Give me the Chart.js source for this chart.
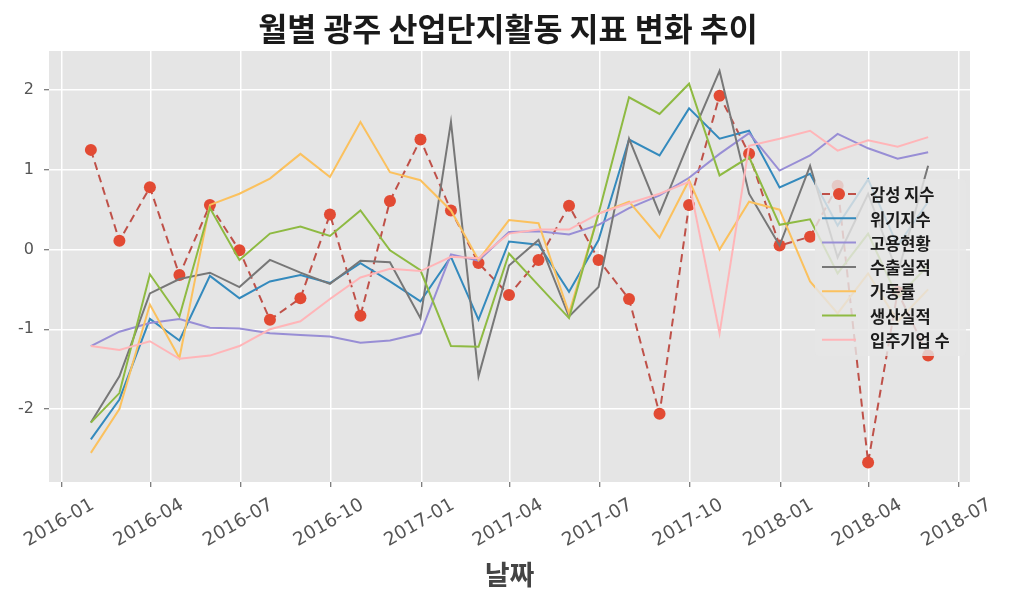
<!DOCTYPE html>
<html lang="ko">
<head>
<meta charset="utf-8">
<title>월별 광주 산업단지활동 지표 변화 추이</title>
<script src="https://cdn.jsdelivr.net/npm/chart.js@4.4.1/dist/chart.umd.min.js"></script>
<style>
  html, body { margin: 0; padding: 0; background: #fff; }
  #chart { display: block; }
</style>
</head>
<body>
<canvas id="chart" width="1015" height="598"></canvas>
<script>
// month-end dates of each observation
const months = [
  '2016-01-31', '2016-02-29', '2016-03-31', '2016-04-30', '2016-05-31', '2016-06-30',
  '2016-07-31', '2016-08-31', '2016-09-30', '2016-10-31', '2016-11-30', '2016-12-31',
  '2017-01-31', '2017-02-28', '2017-03-31', '2017-04-30', '2017-05-31', '2017-06-30',
  '2017-07-31', '2017-08-31', '2017-09-30', '2017-10-31', '2017-11-30', '2017-12-31',
  '2018-01-31', '2018-02-28', '2018-03-31', '2018-04-30', '2018-05-31'
]
const tickMonths = ['2016-01', '2016-04', '2016-07', '2016-10', '2017-01', '2017-04',
  '2017-07', '2017-10', '2018-01', '2018-04', '2018-07']
const yTicks = [-2, -1, 0, 1, 2]

const chartTitle = '월별 광주 산업단지활동 지표 변화 추이'
const seriesNames = ['감성 지수', '위기지수', '고용현황', '수출실적', '가동률', '생산실적', '입주기업 수']

const sentiment = [1.25, 0.11, 0.78, -0.32, 0.56, -0.01, -0.88, -0.61, 0.44, -0.83, 0.61, 1.38, 0.49, -0.17,
  -0.57, -0.13, 0.55, -0.13, -0.62, -2.06, 0.56, 1.93, 1.2, 0.05, 0.16, 0.8, -2.67, -0.53, -1.33]
const crisis = [-2.38, -1.88, -0.87, -1.14, -0.33, -0.61, -0.4, -0.32, -0.42, -0.17, -0.4, -0.65, -0.09, -0.88,
  0.1, 0.06, -0.53, 0.12, 1.38, 1.18, 1.77, 1.39, 1.49, 0.78, 0.95, 0.3, 0.88, 0.05, 0.6]
const employment = [-1.21, -1.03, -0.92, -0.87, -0.98, -0.99, -1.05, -1.07, -1.09, -1.17, -1.14, -1.05, -0.06, -0.14,
  0.22, 0.23, 0.19, 0.31, 0.52, 0.68, 0.9, 1.2, 1.46, 0.99, 1.18, 1.45, 1.27, 1.14, 1.22]
const exports = [-2.17, -1.59, -0.55, -0.37, -0.29, -0.47, -0.13, -0.29, -0.43, -0.14, -0.16, -0.86, 1.6, -1.59,
  -0.2, 0.12, -0.84, -0.47, 1.39, 0.45, 1.35, 2.24, 0.7, 0.05, 1.05, -0.1, 0.7, -0.3, 1.05]
const utilization = [-2.55, -2.0, -0.69, -1.36, 0.56, 0.7, 0.89, 1.2, 0.91, 1.6, 0.97, 0.87, 0.49, -0.13,
  0.37, 0.33, -0.8, 0.45, 0.6, 0.15, 0.87, 0.0, 0.6, 0.5, -0.4, -0.8, -0.3, -0.9, -0.5]
const production = [-2.17, -1.8, -0.31, -0.84, 0.52, -0.13, 0.2, 0.29, 0.17, 0.49, -0.01, -0.26, -1.21, -1.22,
  -0.05, -0.45, -0.86, 0.45, 1.91, 1.7, 2.08, 0.93, 1.16, 0.31, 0.38, -0.3, 0.2, -0.6, -0.2]
const tenants = [-1.21, -1.26, -1.15, -1.37, -1.33, -1.21, -1.0, -0.9, -0.62, -0.35, -0.24, -0.27, -0.09, -0.11,
  0.2, 0.25, 0.25, 0.45, 0.58, 0.7, 0.85, -1.05, 1.3, 1.39, 1.49, 1.24, 1.37, 1.29, 1.41]

const toMs = (s) => Date.parse(s + 'T00:00:00Z')
const xValues = months.map(toMs)
const tickValues = tickMonths.map((m) => toMs(m + '-01'))
const xSpan = xValues[xValues.length - 1] - xValues[0]

const pair = (values) => values.map((v, i) => ({ x: xValues[i], y: v }))

const allSeries = [sentiment, crisis, employment, exports, utilization, production, tenants]
const colors = ['#E24A33', '#348ABD', '#988ED5', '#777777', '#FBC15E', '#8EBA42', '#FFB5B8']

const datasets = allSeries.map((values, i) => ({
  label: seriesNames[i],
  data: pair(values),
  borderColor: i === 0 ? '#BF5149' : colors[i],
  backgroundColor: colors[i],
  borderWidth: 2,
  borderDash: i === 0 ? [8, 5] : [],
  pointRadius: i === 0 ? 6 : 0,
  pointBorderWidth: 0,
  pointBackgroundColor: colors[i],
  order: allSeries.length - i,
  tension: 0
}))

const plotBackground = {
  id: 'plotBackground',
  beforeDraw(chart) {
    const { ctx, chartArea: a } = chart
    ctx.save()
    ctx.fillStyle = '#E5E5E5'
    ctx.fillRect(a.left, a.top, a.right - a.left, a.bottom - a.top)
    ctx.restore()
  }
}

// title and matplotlib-like rotated date labels, centred under each tick
const extraText = {
  id: 'extraText',
  afterDraw(chart) {
    const ctx = chart.ctx
    const scale = chart.scales.x
    ctx.save()
    ctx.font = 'bold 31.5px "Noto Sans CJK KR"'
    ctx.fillStyle = '#1a1a1a'
    ctx.textAlign = 'center'
    ctx.textBaseline = 'middle'
    ctx.fillText(chartTitle, 508, 29)

    ctx.font = '18.5px "DejaVu Sans"'
    ctx.fillStyle = '#555555'
    tickMonths.forEach((label, i) => {
      const px = scale.getPixelForValue(tickValues[i])
      ctx.save()
      ctx.translate(px - 2, chart.chartArea.bottom + 41)
      ctx.rotate(-Math.PI / 6)
      ctx.fillText(label, 0, 0)
      ctx.restore()
    })
    ctx.restore()
  }
}

const legendBox = {
  id: 'legendBox',
  afterDatasetsDraw(chart) {
    const ctx = chart.ctx
    const x = 815, y = 179, w = 151, h = 177
    ctx.save()
    ctx.fillStyle = 'rgba(229, 229, 229, 0.82)'
    ctx.beginPath()
    ctx.roundRect(x, y, w, h, 4)
    ctx.fill()
    ctx.font = 'bold 16.5px "Noto Sans CJK KR"'
    ctx.textBaseline = 'middle'
    chart.data.datasets.forEach((ds, i) => {
      const cy = y + 15 + i * 24.3
      ctx.strokeStyle = ds.borderColor
      ctx.lineWidth = ds.borderWidth
      ctx.setLineDash(ds.borderDash)
      ctx.beginPath()
      ctx.moveTo(x + 7, cy)
      ctx.lineTo(x + 41, cy)
      ctx.stroke()
      ctx.setLineDash([])
      if (ds.pointRadius > 0) {
        ctx.fillStyle = ds.pointBackgroundColor
        ctx.beginPath()
        ctx.arc(x + 24, cy, ds.pointRadius, 0, Math.PI * 2)
        ctx.fill()
      }
      ctx.fillStyle = '#1a1a1a'
      ctx.fillText(ds.label, x + 55, cy + 1)
    })
    ctx.restore()
  }
}

new Chart(document.getElementById('chart'), {
  type: 'line',
  data: { datasets: datasets },
  plugins: [plotBackground, extraText, legendBox],
  options: {
    responsive: false,
    animation: false,
    devicePixelRatio: 1,
    layout: { padding: { left: 0, right: 45, top: 51, bottom: 0 } },
    plugins: {
      legend: { display: false },
      tooltip: { enabled: false },
      title: { display: false }
    },
    scales: {
      x: {
        type: 'linear',
        min: xValues[0] - 0.05 * xSpan,
        max: xValues[xValues.length - 1] + 0.05 * xSpan,
        afterBuildTicks: (scale) => { scale.ticks = tickValues.map((v) => ({ value: v })) },
        afterFit: (scale) => { scale.height = 116 },
        ticks: { display: false },
        grid: { color: '#FFFFFF', lineWidth: 1.5, drawTicks: true, tickLength: 5, tickColor: '#555555', tickWidth: 1 },
        border: { display: false },
        title: {
          display: true,
          text: '날짜',
          color: '#444444',
          font: { family: '"Noto Sans CJK KR"', size: 27, weight: 'bold' },
          padding: { top: 0, bottom: 7 }
        }
      },
      y: {
        min: -2.915,
        max: 2.49,
        afterBuildTicks: (scale) => { scale.ticks = yTicks.map((v) => ({ value: v })) },
        afterFit: (scale) => { scale.width = 49 },
        ticks: {
          color: '#555555',
          padding: 10,
          font: { family: '"DejaVu Sans"', size: 16 }
        },
        grid: { color: '#FFFFFF', lineWidth: 1.5, drawTicks: true, tickLength: 5, tickColor: '#555555', tickWidth: 1 },
        border: { display: false }
      }
    }
  }
})
</script>
</body>
</html>
